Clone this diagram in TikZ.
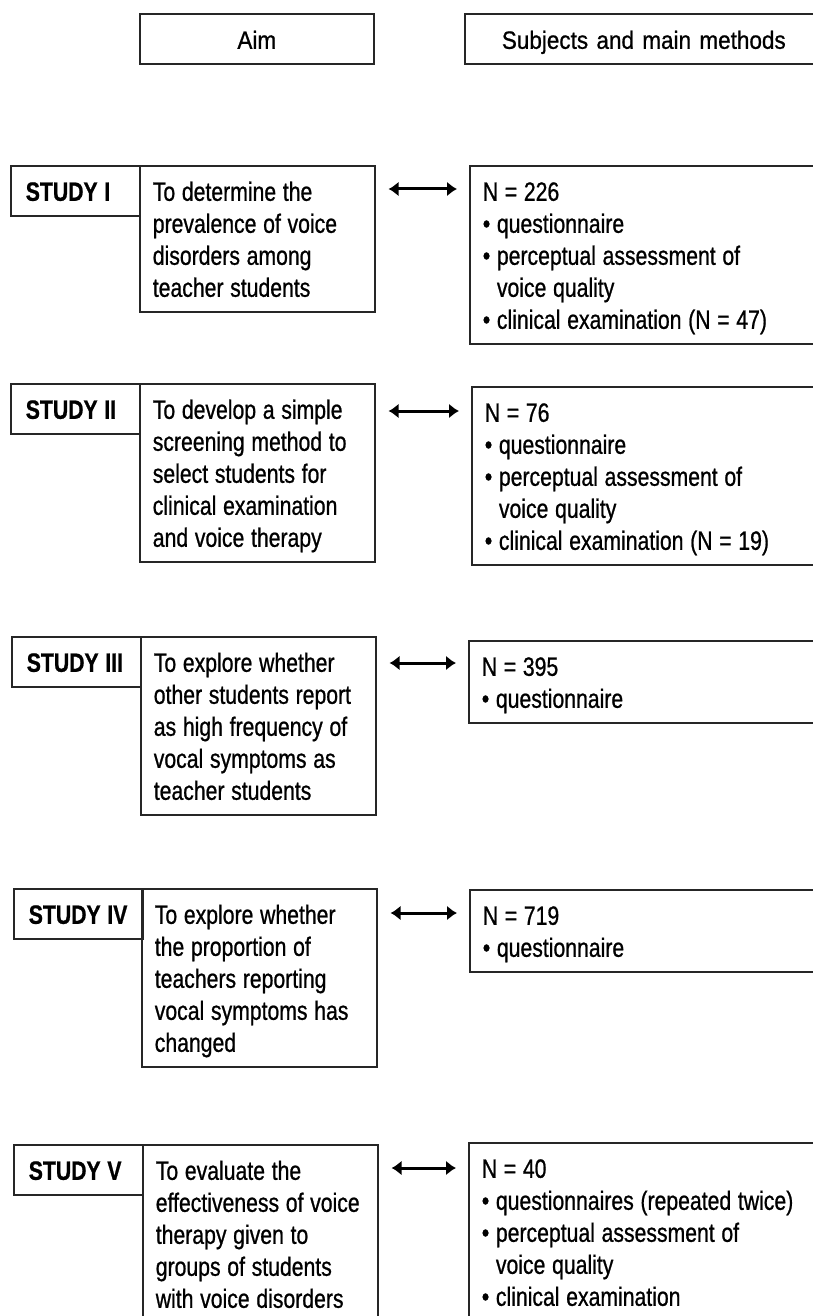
\documentclass[tikz,border=0pt]{standalone}
\usepackage{fontspec}
\setmainfont[FakeStretch=0.8, FakeBold=0.8]{Liberation Sans}
\newfontfamily\hfont[FakeStretch=0.9, FakeBold=0.8]{Liberation Sans}
\usetikzlibrary{arrows.meta}
\newcommand{\sx}{\rule[-6pt]{0pt}{32pt}}
\newcommand{\Lx}[1]{\mbox{\spaceskip=6.7pt\relax\xspaceskip=6.7pt\relax\sx#1}}
\newcommand{\Hx}[1]{\mbox{\sx#1}}
\newcommand{\bu}{•\ }
\newcommand{\ind}{\phantom{•\ }}
\newcommand{\bodyf}{\fontsize{26.5}{32}\selectfont}
\newcommand{\labf}{\bfseries\fontsize{26.5}{32}\selectfont}
\newcommand{\headf}{\hfont\fontsize{25}{32}\selectfont}
\tikzset{
  basebox/.style={draw=black!85, line width=1.6pt, anchor=north west, inner ysep=9pt,
    font=\bodyf},
  hbox/.style={basebox, inner xsep=14pt, align=center, font=\headf},
  labbox/.style={basebox, inner xsep=15pt, text width=99pt, align=left, font=\labf},
  aimbox/.style={basebox, inner xsep=13pt, text width=209pt, align=left},
  rbox/.style={basebox, inner xsep=13pt, text width=334pt, align=left},
  dbl/.style={line width=3pt, {Latex[length=10pt,width=15pt]}-{Latex[length=10pt,width=15pt]},
    shorten <=13pt, shorten >=12pt}
}
\begin{document}
\begin{tikzpicture}[x=1pt,y=-1pt]
\useasboundingbox (0,0) rectangle (813,1316);
\clip (0,0) rectangle (813,1316);
% headers
\node[hbox, text width=206pt] (hA) at (139,13) {\Hx{Aim}};
\node[hbox, text width=330pt] (hS) at (464,13) {\Hx{Subjects and main methods}};
% Study I
\node[labbox] (l1) at (10,165) {\Lx{STUDY I}};
\node[aimbox] (a1) at (139,165) {\Lx{To determine the}\\\Lx{prevalence of voice}\\\Lx{disorders among}\\\Lx{teacher students}};
\node[rbox] (r1) at (469,165) {\Lx{N = 226}\\\Lx{\bu questionnaire}\\\Lx{\bu perceptual assessment of}\\\Lx{\ind voice quality}\\\Lx{\bu clinical examination (N = 47)}};
\coordinate (c1) at ([yshift=-24pt]a1.north east);
\draw[dbl] (c1) -- (c1 -| r1.west);
% Study II
\node[labbox] (l2) at (10,383) {\Lx{STUDY II}};
\node[aimbox] (a2) at (139,383) {\Lx{To develop a simple}\\\Lx{screening method to}\\\Lx{select students for}\\\Lx{clinical examination}\\\Lx{and voice therapy}};
\node[rbox] (r2) at (471,386) {\Lx{N = 76}\\\Lx{\bu questionnaire}\\\Lx{\bu perceptual assessment of}\\\Lx{\ind voice quality}\\\Lx{\bu clinical examination (N = 19)}};
\coordinate (c2) at ([yshift=-28pt]a2.north east);
\draw[dbl] (c2) -- (c2 -| r2.west);
% Study III
\node[labbox] (l3) at (11,636) {\Lx{STUDY III}};
\node[aimbox] (a3) at (140,636) {\Lx{To explore whether}\\\Lx{other students report}\\\Lx{as high frequency of}\\\Lx{vocal symptoms as}\\\Lx{teacher students}};
\node[rbox] (r3) at (468,640) {\Lx{N = 395}\\\Lx{\bu questionnaire}};
\coordinate (c3) at ([yshift=-27pt]a3.north east);
\draw[dbl] (c3) -- (c3 -| r3.west);
% Study IV
\node[labbox] (l4) at (13,888) {\Lx{STUDY IV}};
\node[aimbox] (a4) at (141,888) {\Lx{To explore whether}\\\Lx{the proportion of}\\\Lx{teachers reporting}\\\Lx{vocal symptoms has}\\\Lx{changed}};
\node[rbox] (r4) at (469,889) {\Lx{N = 719}\\\Lx{\bu questionnaire}};
\coordinate (c4) at ([yshift=-25pt]a4.north east);
\draw[dbl] (c4) -- (c4 -| r4.west);
% Study V
\node[labbox] (l5) at (13,1144) {\Lx{STUDY V}};
\node[aimbox] (a5) at (142,1144) {\Lx{To evaluate the}\\\Lx{effectiveness of voice}\\\Lx{therapy given to}\\\Lx{groups of students}\\\Lx{with voice disorders}};
\node[rbox] (r5) at (468,1142) {\Lx{N = 40}\\\Lx{\bu questionnaires (repeated twice)}\\\Lx{\bu perceptual assessment of}\\\Lx{\ind voice quality}\\\Lx{\bu clinical examination}};
\coordinate (c5) at ([yshift=-24pt]a5.north east);
\draw[dbl] (c5) -- (c5 -| r5.west);
\end{tikzpicture}
\end{document}
